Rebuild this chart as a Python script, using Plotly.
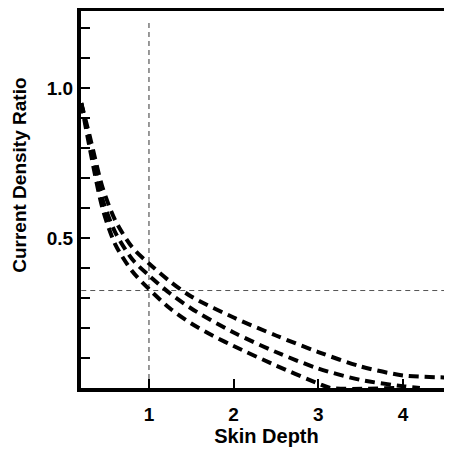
import plotly.graph_objects as go

# Data
depth = [0.2, 0.3, 0.45, 0.6, 0.8, 1.0, 1.25, 1.5, 2.0, 2.5, 3.0, 3.5, 4.0, 4.55]
ratio_top = [0.95, 0.84, 0.67, 0.56, 0.47, 0.415, 0.355, 0.305, 0.235, 0.175, 0.12, 0.072, 0.042, 0.035]
depth_mid = [0.2, 0.3, 0.45, 0.6, 0.8, 1.0, 1.25, 1.5, 2.0, 2.5, 3.0, 3.5, 4.0, 4.2]
ratio_mid = [0.95, 0.82, 0.63, 0.52, 0.43, 0.375, 0.315, 0.265, 0.185, 0.12, 0.065, 0.027, 0.006, 0.0]
depth_low = [0.2, 0.3, 0.45, 0.6, 0.8, 1.0, 1.25, 1.5, 1.75, 2.0, 2.5, 3.0, 3.15, 3.9]
ratio_low = [0.95, 0.80, 0.60, 0.48, 0.39, 0.33, 0.265, 0.215, 0.175, 0.14, 0.075, 0.015, 0.0, 0.0]

ref_depth = 1.0
ref_ratio = 0.325

x_ticks = [1, 2, 3, 4]
y_ticks = [0.1, 0.2, 0.3, 0.4, 0.5, 0.6, 0.7, 0.8, 0.9, 1.0, 1.1, 1.2]
y_ticklabels = ["", "", "", "", "0.5", "", "", "", "", "1.0", "", ""]

fig = go.Figure()

# guide lines
fig.add_trace(go.Scatter(x=[ref_depth, ref_depth], y=[0, 1.23], mode="lines",
                         line=dict(color="#333333", width=1, dash="5px,4px"),
                         showlegend=False, hoverinfo="skip"))
fig.add_trace(go.Scatter(x=[0.2, 4.55], y=[ref_ratio, ref_ratio], mode="lines",
                         line=dict(color="#555555", width=1, dash="5px,4px"),
                         showlegend=False, hoverinfo="skip"))

for xs, ys in [(depth, ratio_top), (depth_mid, ratio_mid), (depth_low, ratio_low)]:
    fig.add_trace(go.Scatter(x=xs, y=ys, mode="lines",
                             line=dict(color="black", width=4, dash="10px,6px", shape="spline", smoothing=0.8),
                             showlegend=False))

font_family = "Liberation Sans, Arial, sans-serif"
fig.update_layout(
    width=444, height=447,
    margin=dict(l=73, r=0, t=3, b=67, autoexpand=False),
    plot_bgcolor="white", paper_bgcolor="white",
    font=dict(family=font_family, color="black"),
    annotations=[dict(
        text="Current Density Ratio", textangle=-90,
        xref="paper", yref="paper", x=-0.165, y=0.565,
        xanchor="center", yanchor="middle", showarrow=False,
        font=dict(size=19, family=font_family, weight="bold"),
    )],
)
fig.update_xaxes(
    range=[0.197, 4.58], showgrid=False, zeroline=False, automargin=False,
    showline=True, linewidth=4, linecolor="black", mirror=True,
    ticks="inside", ticklen=9, tickwidth=2, tickcolor="black",
    tickvals=x_ticks, ticktext=[str(v) for v in x_ticks],
    tickfont=dict(size=19, family=font_family, weight="bold"),
    ticklabelstandoff=6,
    title=dict(text="Skin Depth", font=dict(size=20, family=font_family, weight="bold"), standoff=6),
)
fig.update_yaxes(
    range=[0, 1.257], showgrid=False, zeroline=False, automargin=False,
    showline=True, linewidth=4, linecolor="black", mirror=False,
    ticks="inside", ticklen=9, tickwidth=2, tickcolor="black",
    tickvals=y_ticks, ticktext=y_ticklabels,
    tickfont=dict(size=19, family=font_family, weight="bold"),
)

fig.write_html("out.html")
